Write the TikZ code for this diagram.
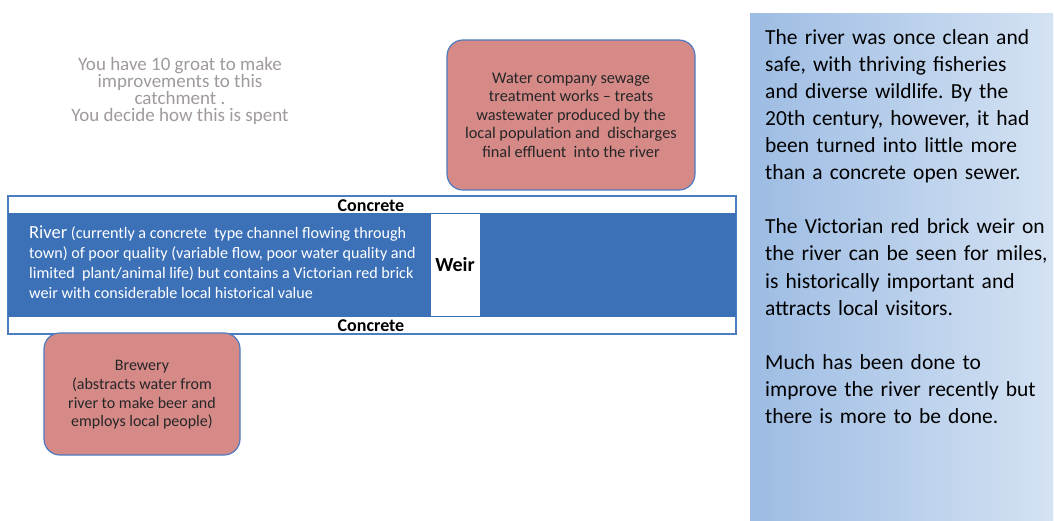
\documentclass[tikz,border=0pt]{standalone}
\usepackage{fontspec}
\setmainfont{Carlito}
\frenchspacing
\definecolor{riverblue}{HTML}{3C71B8}
\definecolor{edgeblue}{HTML}{4A7EC0}
\definecolor{salmon}{HTML}{D58A88}
\definecolor{boxedge}{HTML}{4F7CC0}
\definecolor{graytext}{HTML}{A09A9A}
\definecolor{paneldark}{HTML}{9DBCE3}
\definecolor{panelmid}{HTML}{C6D8EF}
\definecolor{panellight}{HTML}{D4E2F3}
\tikzset{
  x=1pt, y=-1pt,
  redbox/.style={draw=boxedge, line width=1.2pt, fill=salmon, rounded corners=16pt},
  boxtext/.style={align=center, text=black!85, font=\fontsize{16.3}{18.5}\selectfont},
  conclabel/.style={font=\bfseries\fontsize{18}{20}\selectfont, text=black},
}
\begin{document}
\begin{tikzpicture}
\useasboundingbox (0,0) rectangle (1054,520);
\fill[white] (0,0) rectangle (1054,520);
% right panel
\shade[left color=paneldark, middle color=panelmid, right color=panellight]
  (750,13) rectangle (1053,520);
\node[anchor=north west, align=left, text width=290pt, inner sep=0pt,
      font=\fontsize{21.5}{27.1}\selectfont, text=black] (story) at (765,29)
  {The river was once clean and\\safe, with thriving fisheries\\and diverse wildlife. By the\\20th century, however, it had\\been turned into little more\\than a concrete open sewer.\\[27.1pt]The Victorian red brick weir on\\the river can be seen for miles,\\is historically important and\\attracts local visitors.\\[27.1pt]Much has been done to\\improve the river recently but\\there is more to be done.};
% river channel
\draw[edgeblue, line width=1.2pt, fill=white] (8,196) rectangle (736,334);
\fill[riverblue] (8,213) rectangle (736,317);
\node[fill=white, minimum width=49pt, minimum height=102pt, inner sep=0pt,
      font=\bfseries\fontsize{20}{22}\selectfont] (weir) at (455,265) {Weir};
\node[conclabel] (ctop) at (371,206) {Concrete};
\node[conclabel] (cbot) at (371,326) {Concrete};
\node[anchor=north west, align=left, inner sep=0pt, text=white,
      font=\fontsize{16.1}{20}\selectfont] (river) at (29,226)
  {{\fontsize{18.5}{20}\selectfont River} (currently a concrete\ \ type channel flowing through\\town) of poor quality (variable flow, poor water quality and\\limited\ \ plant/animal life) but contains a Victorian red brick\\weir with considerable local historical value};
% sewage works
\node[redbox, minimum width=248pt, minimum height=150pt] (sewage) at (571,115) {};
\node[boxtext] (sewtext) at (571,115)
  {Water company sewage\\treatment works -- treats\\wastewater produced by the\\local population and\ \ discharges\\final effluent\ \ into the river};
% brewery
\node[redbox, minimum width=196pt, minimum height=122pt] (brewery) at (142,394) {};
\node[boxtext, font=\fontsize{16}{18.7}\selectfont] (brewtext) at (142,395)
  {Brewery\\(abstracts water from\\river to make beer and\\employs local people)};
% instructions
\node[align=center, text=graytext, font=\fontsize{19}{17}\selectfont] (instr) at (180,91)
  {You have 10 groat to make\\improvements to this\\catchment .\\You decide how this is spent};
\end{tikzpicture}
\end{document}
